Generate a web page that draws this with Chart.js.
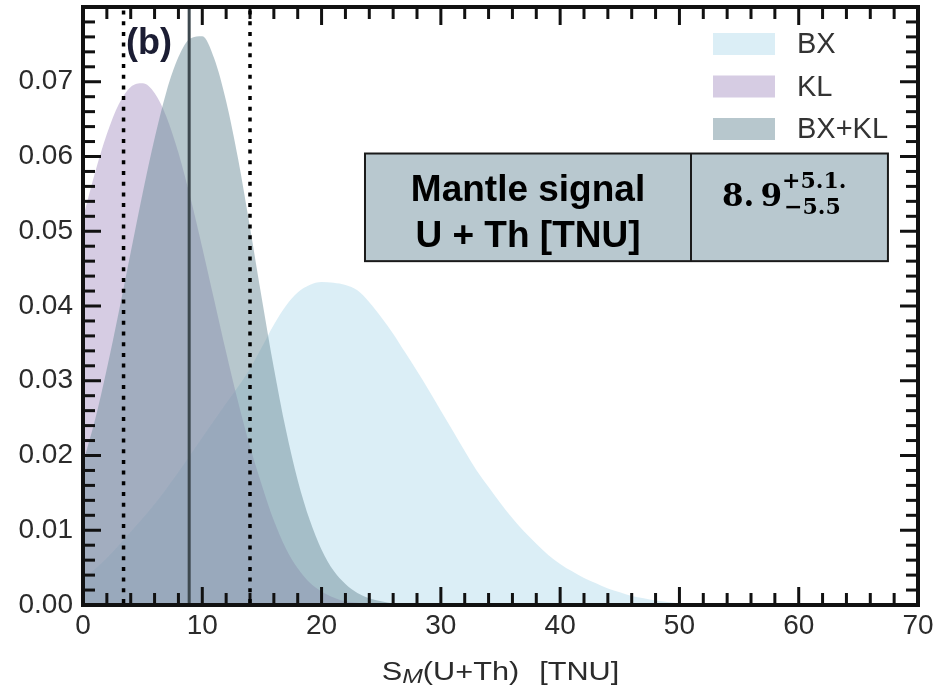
<!DOCTYPE html>
<html>
<head>
<meta charset="utf-8">
<script src="https://cdn.jsdelivr.net/npm/chart.js@4.4.0/dist/chart.umd.min.js"></script>
<style>
  html, body { margin: 0; padding: 0; background: #ffffff; }
  #wrap { width: 937px; height: 692px; }
</style>
</head>
<body>
<div id="wrap"><canvas id="c" width="937" height="692"></canvas></div>
<script>
// Probability densities of the mantle geoneutrino signal S_M(U+Th), in TNU
const xBX = [0,1,2,3,4,5,6,7,8,9,10,11,12,13,14,15,16,17,18,19,20,21,22,23,24,25,26,27,28,29,30,31,32,33,34,35,36,37,38,39,40,41,42,43,44,45,46,47,48,49,50,52,55];
const yBX = [0.0035,0.0048,0.0063,0.0080,0.0098,0.0116,0.0135,0.0156,0.0178,0.0201,0.0224,0.0247,0.0270,0.0292,0.0316,0.0345,0.0375,0.0400,0.0418,0.0428,0.0432,0.0431,0.0428,0.0421,0.0405,0.0385,0.0363,0.0338,0.0313,0.0287,0.0260,0.0233,0.0206,0.0180,0.0158,0.0136,0.0116,0.0098,0.0082,0.0067,0.0055,0.0045,0.0036,0.0029,0.0022,0.0017,0.0012,0.0009,0.0006,0.0004,0.0002,0.0001,0];

const xKL = [0,1,2,3,4,5,6,7,8,9,10,11,12,13,14,15,16,17,18,19,20,21,22,23,24,26,28];
const yKL = [0.0518,0.0578,0.0630,0.0670,0.0693,0.0698,0.0685,0.0653,0.0605,0.0545,0.0478,0.0408,0.0338,0.0272,0.0212,0.0160,0.0113,0.0076,0.0049,0.0030,0.0018,0.0010,0.0005,0.0003,0.0001,0.00005,0];

const xBXKL = [0,1,2,3,4,5,6,7,8,9,10,11,12,13,14,15,16,17,18,19,20,21,22,23,24,25,26,28];
const yBXKL = [0.0190,0.0247,0.0316,0.0392,0.0472,0.0551,0.0624,0.0687,0.0733,0.0758,0.0761,0.0731,0.0674,0.0597,0.0505,0.0409,0.0317,0.0235,0.0167,0.0114,0.0074,0.0046,0.0028,0.0016,0.0009,0.0005,0.0002,0];

const seriesLabels = ['BX', 'KL', 'BX+KL'];
const xTickValues = [0, 10, 20, 30, 40, 50, 60, 70];
const yTickValues = [0.00, 0.01, 0.02, 0.03, 0.04, 0.05, 0.06, 0.07];

// combined result: 8.9 (+5.1 / -5.5) TNU
const signalBest = 8.9;
const signalPlus = 5.1;
const signalMinus = 5.5;

// results table placed in data coordinates
const tableX = [23.64, 50.97, 67.48];   // left, divider, right
const tableY = [0.0604, 0.0460];        // top, bottom

const fillColors = ['rgba(183,221,237,0.5)', 'rgba(173,153,199,0.5)', 'rgba(111,143,155,0.5)'];

const toPoints = (xs, ys) => xs.map((x, i) => ({ x: x, y: ys[i] }));

function strokeLine(ctx, x1, y1, x2, y2) {
  ctx.beginPath(); ctx.moveTo(x1, y1); ctx.lineTo(x2, y2); ctx.stroke();
}

// frame with inward ticks on all four sides, plus the 1-sigma bounds
function drawFrame(chart) {
  const { ctx, chartArea: a, scales } = chart;
  const sx = scales.x, sy = scales.y;
  ctx.save();
  ctx.strokeStyle = '#111111';
  ctx.lineCap = 'butt';
  ctx.lineWidth = 3;
  for (let i = 0; i <= 35; i++) {            // every 2 TNU
    const v = i * 2;
    const px = sx.getPixelForValue(v);
    const len = (v % 10 === 0) ? 18 : 12;
    strokeLine(ctx, px, a.bottom, px, a.bottom - len);
    strokeLine(ctx, px, a.top, px, a.top + len);
  }
  for (let i = 0; i <= 40; i++) {            // every 0.002
    const py = sy.getPixelForValue(i * 0.002);
    const len = (i % 5 === 0) ? 18 : 12;
    strokeLine(ctx, a.left, py, a.left + len, py);
    strokeLine(ctx, a.right, py, a.right - len, py);
  }
  ctx.lineWidth = 4;
  ctx.strokeRect(a.left, a.top, a.right - a.left, a.bottom - a.top);

  // dotted bounds
  ctx.setLineDash([4, 6.7]);
  ctx.lineWidth = 3.5;
  ctx.strokeStyle = '#000000';
  [signalBest - signalMinus, signalBest + signalPlus].forEach(v => {
    const px = sx.getPixelForValue(v);
    strokeLine(ctx, px, a.bottom - 2, px, a.top + 2);
  });
  ctx.restore();
}

function drawScaledText(ctx, text, x, y, scaleX) {
  ctx.save();
  ctx.translate(x, y);
  ctx.scale(scaleX, 1);
  ctx.fillText(text, 0, 0);
  ctx.restore();
  return ctx.measureText(text).width * scaleX;
}

const overlayPlugin = {
  id: 'overlay',
  beforeDatasetDraw(chart, args) {
    if (chart.data.datasets[args.index].label === 'BX+KL') drawFrame(chart);
  },
  afterDatasetsDraw(chart) {
    const { ctx, chartArea: a, scales } = chart;
    // central value
    ctx.save();
    ctx.strokeStyle = '#3d484e';
    ctx.lineWidth = 3;
    const px = scales.x.getPixelForValue(signalBest);
    strokeLine(ctx, px, a.bottom - 2, px, a.top + 2);
    ctx.restore();
  },
  afterDraw(chart) {
    const { ctx, chartArea: a, scales } = chart;
    const sx = scales.x, sy = scales.y;
    ctx.save();

    // panel tag
    ctx.fillStyle = '#1b1d33';
    ctx.font = 'bold 36px "Liberation Sans", Arial, sans-serif';
    ctx.textBaseline = 'alphabetic';
    ctx.textAlign = 'left';
    ctx.fillText('(b)', a.left + 43, a.top + 47);

    // legend
    const lx = a.right - 205;
    chart.data.datasets.forEach((ds, i) => {
      const top = a.top + 26 + i * 42.5;
      ctx.fillStyle = '#ffffff';
      ctx.fillRect(lx, top, 62, 22);
      ctx.fillStyle = ds.backgroundColor;
      ctx.fillRect(lx, top, 62, 22);
      ctx.fillStyle = '#333333';
      ctx.font = '29px "Liberation Sans", Arial, sans-serif';
      ctx.textBaseline = 'middle';
      ctx.fillText(ds.label, lx + 84, top + 12);
    });

    // results table
    const bl = sx.getPixelForValue(tableX[0]);
    const bd = sx.getPixelForValue(tableX[1]);
    const br = sx.getPixelForValue(tableX[2]);
    const bt = sy.getPixelForValue(tableY[0]);
    const bb = sy.getPixelForValue(tableY[1]);
    ctx.fillStyle = '#b8c8cf';
    ctx.fillRect(bl, bt, br - bl, bb - bt);
    ctx.strokeStyle = '#1a1a1a';
    ctx.lineWidth = 2;
    ctx.strokeRect(bl, bt, br - bl, bb - bt);
    strokeLine(ctx, bd, bt, bd, bb);

    ctx.fillStyle = '#000000';
    ctx.textAlign = 'center';
    ctx.textBaseline = 'alphabetic';
    ctx.font = 'bold 37px "Liberation Sans", Arial, sans-serif';
    const cx = (bl + bd) / 2;
    ctx.fillText('Mantle signal', cx, bt + 47);
    ctx.fillText('U + Th [TNU]', cx, bt + 93);

    ctx.textAlign = 'left';
    ctx.font = 'bold 31px "DejaVu Serif", serif';
    const mainText = signalBest.toFixed(1).replace('.', '.\u2009');
    const mx = bd + 31;
    ctx.fillText(mainText, mx, bt + 52);
    const mw = ctx.measureText(mainText).width;
    ctx.font = 'bold 22px "DejaVu Serif", serif';
    ctx.fillText('+' + signalPlus.toFixed(1) + '.', mx + mw, bt + 34);
    ctx.fillText('\u2212' + signalMinus.toFixed(1), mx + mw + 2, bt + 60);

    // x-axis title  S_M(U+Th) [TNU]
    const sc = 1.18;
    const base = 680;
    ctx.fillStyle = '#2b2b2b';
    const fMain = '26px "Liberation Sans", Arial, sans-serif';
    const fSub = 'italic 21px "Liberation Sans", Arial, sans-serif';
    ctx.font = fMain;
    const wS = ctx.measureText('S').width * sc;
    const wA = ctx.measureText('(U+Th)').width * sc;
    const wB = ctx.measureText('[TNU]').width * sc;
    ctx.font = fSub;
    const wM = ctx.measureText('M').width * sc;
    const gap = 20;
    const total = wS + wM + wA + gap + wB;
    let tx = (a.left + a.right) / 2 - total / 2;
    ctx.font = fMain;
    tx += drawScaledText(ctx, 'S', tx, base, sc);
    ctx.font = fSub;
    tx += drawScaledText(ctx, 'M', tx, base + 3, sc);
    ctx.font = fMain;
    tx += drawScaledText(ctx, '(U+Th)', tx, base, sc);
    tx += gap;
    drawScaledText(ctx, '[TNU]', tx, base, sc);

    ctx.restore();
  }
};

const tickFont = { family: '"Liberation Sans", Arial, sans-serif', size: 28 };

new Chart(document.getElementById('c'), {
  type: 'line',
  data: {
    datasets: [
      { label: seriesLabels[0], data: toPoints(xBX, yBX), backgroundColor: fillColors[0], order: 3 },
      { label: seriesLabels[1], data: toPoints(xKL, yKL), backgroundColor: fillColors[1], order: 2 },
      { label: seriesLabels[2], data: toPoints(xBXKL, yBXKL), backgroundColor: fillColors[2], order: 1 }
    ].map(ds => Object.assign(ds, {
      fill: 'origin',
      borderWidth: 0,
      borderColor: 'rgba(0,0,0,0)',
      pointRadius: 0,
      cubicInterpolationMode: 'monotone'
    }))
  },
  options: {
    responsive: false,
    animation: false,
    devicePixelRatio: 1,
    layout: { padding: { left: 0, top: 7, right: 19, bottom: 0 } },
    plugins: { legend: { display: false }, tooltip: { enabled: false } },
    scales: {
      x: {
        type: 'linear', min: 0, max: 70,
        grid: { display: false, drawTicks: false },
        border: { display: false },
        afterBuildTicks: s => { s.ticks = xTickValues.map(v => ({ value: v })); },
        ticks: { font: tickFont, color: '#2b2b2b', padding: 4, maxRotation: 0, autoSkip: false,
                 callback: v => String(v) },
        afterFit: s => { s.height = 87; s.paddingLeft = 0; s.paddingRight = 0; }
      },
      y: {
        type: 'linear', min: 0, max: 0.08,
        grid: { display: false, drawTicks: false },
        border: { display: false },
        afterBuildTicks: s => { s.ticks = yTickValues.map(v => ({ value: v })); },
        ticks: { font: tickFont, color: '#2b2b2b', padding: 10, autoSkip: false,
                 callback: v => Number(v).toFixed(2) },
        afterFit: s => { s.width = 83; s.paddingTop = 0; s.paddingBottom = 0; }
      }
    }
  },
  plugins: [overlayPlugin]
});
</script>
</body>
</html>
